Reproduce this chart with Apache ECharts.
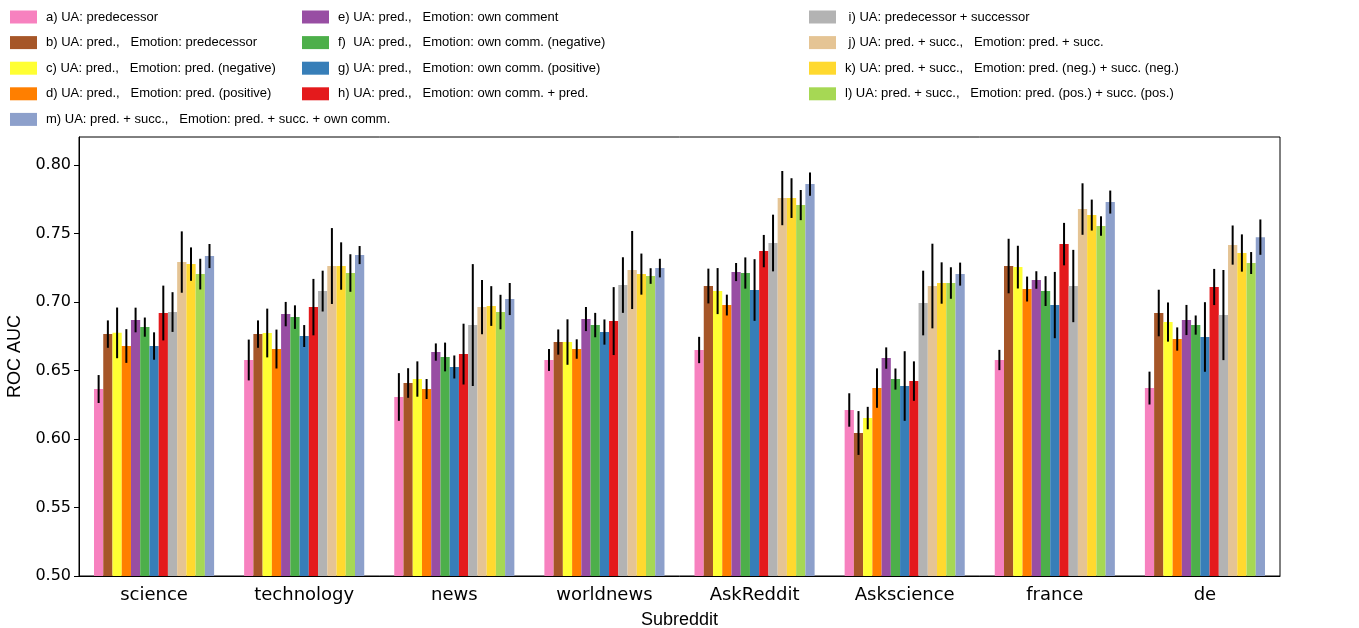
<!DOCTYPE html>
<html>
<head>
<meta charset="utf-8">
<script src="https://cdn.jsdelivr.net/npm/echarts@6/dist/echarts.min.js"></script>
<style>html,body{margin:0;padding:0;background:#fff}#c{width:1359px;height:628px}</style>
</head>
<body>
<div id="c"></div>
<script>
const categories = ['science','technology','news','worldnews','AskReddit','Askscience','france','de'];
const seriesNames = [
  'a) UA: predecessor',
  'b) UA: pred.,   Emotion: predecessor',
  'c) UA: pred.,   Emotion: pred. (negative)',
  'd) UA: pred.,   Emotion: pred. (positive)',
  'e) UA: pred.,   Emotion: own comment',
  'f)  UA: pred.,   Emotion: own comm. (negative)',
  'g) UA: pred.,   Emotion: own comm. (positive)',
  'h) UA: pred.,   Emotion: own comm. + pred.',
  ' i) UA: predecessor + successor',
  ' j) UA: pred. + succ.,   Emotion: pred. + succ.',
  'k) UA: pred. + succ.,   Emotion: pred. (neg.) + succ. (neg.)',
  'l) UA: pred. + succ.,   Emotion: pred. (pos.) + succ. (pos.)',
  'm) UA: pred. + succ.,   Emotion: pred. + succ. + own comm.'
];
const colors = ['#f781bf','#a65628','#ffff33','#ff7f00','#984ea3','#4daf4a','#377eb8','#e41a1c','#b3b3b3','#e5c494','#ffd92f','#a6d854','#8da0cb'];

// values per series, one entry per subreddit (science ... de)
const valA = [0.6365,0.6577,0.6307,0.6577,0.6650,0.6212,0.6577,0.6372];
const valB = [0.6766,0.6766,0.6409,0.6708,0.7117,0.6044,0.7263,0.6920];
const valC = [0.6775,0.6774,0.6438,0.6708,0.7080,0.6153,0.7255,0.6854];
const valD = [0.6679,0.6657,0.6365,0.6657,0.6978,0.6372,0.7095,0.6730];
const valE = [0.6869,0.6912,0.6635,0.6876,0.7219,0.6591,0.7161,0.6869];
const valF = [0.6817,0.6890,0.6599,0.6832,0.7212,0.6438,0.7080,0.6832];
const valG = [0.6679,0.6752,0.6526,0.6781,0.7088,0.6387,0.6978,0.6745];
const valH = [0.6920,0.6963,0.6620,0.6861,0.7372,0.6423,0.7423,0.7110];
const valI = [0.6927,0.7080,0.6832,0.7124,0.7431,0.6993,0.7117,0.6905];
const valJ = [0.7292,0.7263,0.6963,0.7234,0.7759,0.7117,0.7679,0.7416];
const valK = [0.7277,0.7263,0.6971,0.7204,0.7759,0.7139,0.7635,0.7358];
const valL = [0.7204,0.7212,0.6927,0.7190,0.7708,0.7139,0.7555,0.7285];
const valM = [0.7336,0.7343,0.7022,0.7248,0.7861,0.7204,0.7730,0.7474];

// error half-widths per series
const errA = [0.0102,0.0149,0.0174,0.0080,0.0096,0.0122,0.0074,0.0120];
const errB = [0.0100,0.0100,0.0108,0.0092,0.0127,0.0160,0.0199,0.0170];
const errC = [0.0185,0.0178,0.0129,0.0166,0.0168,0.0082,0.0156,0.0143];
const errD = [0.0123,0.0142,0.0073,0.0071,0.0076,0.0144,0.0091,0.0085];
const errE = [0.0090,0.0089,0.0063,0.0088,0.0066,0.0078,0.0064,0.0110];
const errF = [0.0070,0.0086,0.0105,0.0089,0.0114,0.0077,0.0109,0.0070];
const errG = [0.0100,0.0080,0.0084,0.0092,0.0225,0.0254,0.0242,0.0254];
const errH = [0.0200,0.0206,0.0222,0.0248,0.0118,0.0144,0.0155,0.0132];
const errI = [0.0145,0.0149,0.0445,0.0203,0.0207,0.0236,0.0264,0.0329];
const errJ = [0.0224,0.0277,0.0198,0.0285,0.0198,0.0309,0.0188,0.0143];
const errK = [0.0122,0.0173,0.0145,0.0150,0.0145,0.0151,0.0113,0.0136];
const errL = [0.0112,0.0137,0.0126,0.0057,0.0110,0.0115,0.0071,0.0080];
const errM = [0.0088,0.0066,0.0117,0.0068,0.0085,0.0084,0.0084,0.0129];

const yTicks = [0.50,0.55,0.60,0.65,0.70,0.75,0.80];

const values = [valA,valB,valC,valD,valE,valF,valG,valH,valI,valJ,valK,valL,valM];
const errors = [errA,errB,errC,errD,errE,errF,errG,errH,errI,errJ,errK,errL,errM];
const N = values.length;
const CAT_GAP = 0.2;

const barSeries = values.map((v, i) => ({
  name: seriesNames[i],
  type: 'bar',
  data: v,
  barGap: '0%',
  barCategoryGap: (CAT_GAP*100) + '%',
  itemStyle: { color: colors[i] },
  emphasis: { disabled: true },
  z: 2
}));

const errData = [];
values.forEach((v, s) => v.forEach((val, c) => errData.push([c, s, val, errors[s][c]])));

const errSeries = {
  type: 'custom',
  name: 'errors',
  data: errData,
  encode: { x: 0, y: 2 },
  z: 5,
  silent: true,
  renderItem: function (params, api) {
    const c = api.value(0), s = api.value(1), v = api.value(2), e = api.value(3);
    const band = api.size([1, 0])[0];
    const bw = band * (1 - CAT_GAP) / N;
    const x = api.coord([c, v])[0] + (s - (N - 1) / 2) * bw;
    const y1 = api.coord([c, v + e])[1];
    const y2 = api.coord([c, v - e])[1];
    return { type: 'line', shape: { x1: x, y1: y1, x2: x, y2: y2 }, style: { stroke: '#000', lineWidth: 2 } };
  }
};

const legendCommon = {
  orient: 'vertical',
  icon: 'rect',
  itemWidth: 27,
  itemHeight: 13,
  itemGap: 12.6,
  padding: 0,
  selectedMode: false,
  textStyle: { fontFamily: 'Liberation Sans, Arial', fontSize: 13, color: '#000', padding: [0,0,0,4] }
};

const option = {
  animation: false,
  backgroundColor: '#fff',
  grid: { left: 79, right: 79, top: 137, bottom: 52, outerBoundsMode: 'none', containLabel: false, show: true, borderColor: '#000', borderWidth: 1, backgroundColor: 'transparent' },
  legend: [
    Object.assign({ left: 10, top: 10.5, data: [seriesNames[0],seriesNames[1],seriesNames[2],seriesNames[3],seriesNames[12]] }, legendCommon),
    Object.assign({ left: 302, top: 10.5, data: [seriesNames[4],seriesNames[5],seriesNames[6],seriesNames[7]] }, legendCommon),
    Object.assign({ left: 809, top: 10.5, data: [seriesNames[8],seriesNames[9],seriesNames[10],seriesNames[11]] }, legendCommon)
  ],
  xAxis: {
    type: 'category',
    data: categories,
    name: 'Subreddit',
    nameLocation: 'middle',
    nameGap: 35,
    nameTextStyle: { fontFamily: 'Liberation Sans, Arial', fontSize: 18, color: '#000' },
    axisLine: { lineStyle: { color: '#000', width: 1 } },
    axisTick: { alignWithLabel: true, length: 5, lineStyle: { color: '#000' } },
    axisLabel: { fontFamily: 'DejaVu Sans', fontSize: 18, color: '#000', margin: 10 }
  },
  yAxis: {
    type: 'value',
    min: 0.5,
    max: 0.8205,
    interval: 0.05,
    name: 'ROC AUC',
    nameLocation: 'middle',
    nameGap: 52,
    nameTextStyle: { fontFamily: 'Liberation Sans, Arial', fontSize: 18, color: '#000' },
    splitLine: { show: false },
    axisLine: { show: true, lineStyle: { color: '#000', width: 1 } },
    axisTick: { show: true, length: 5, lineStyle: { color: '#000' } },
    axisLabel: {
      fontFamily: 'DejaVu Sans', fontSize: 16, color: '#000', margin: 8, showMaxLabel: false,
      formatter: function (v) {
        const t = yTicks.find(x => Math.abs(x - v) < 1e-6);
        return t === undefined ? '' : t.toFixed(2);
      }
    }
  },
  series: barSeries.concat([errSeries])
};

const chart = echarts.init(document.getElementById('c'), null, { renderer: 'canvas' });
chart.setOption(option);
</script>
</body>
</html>
